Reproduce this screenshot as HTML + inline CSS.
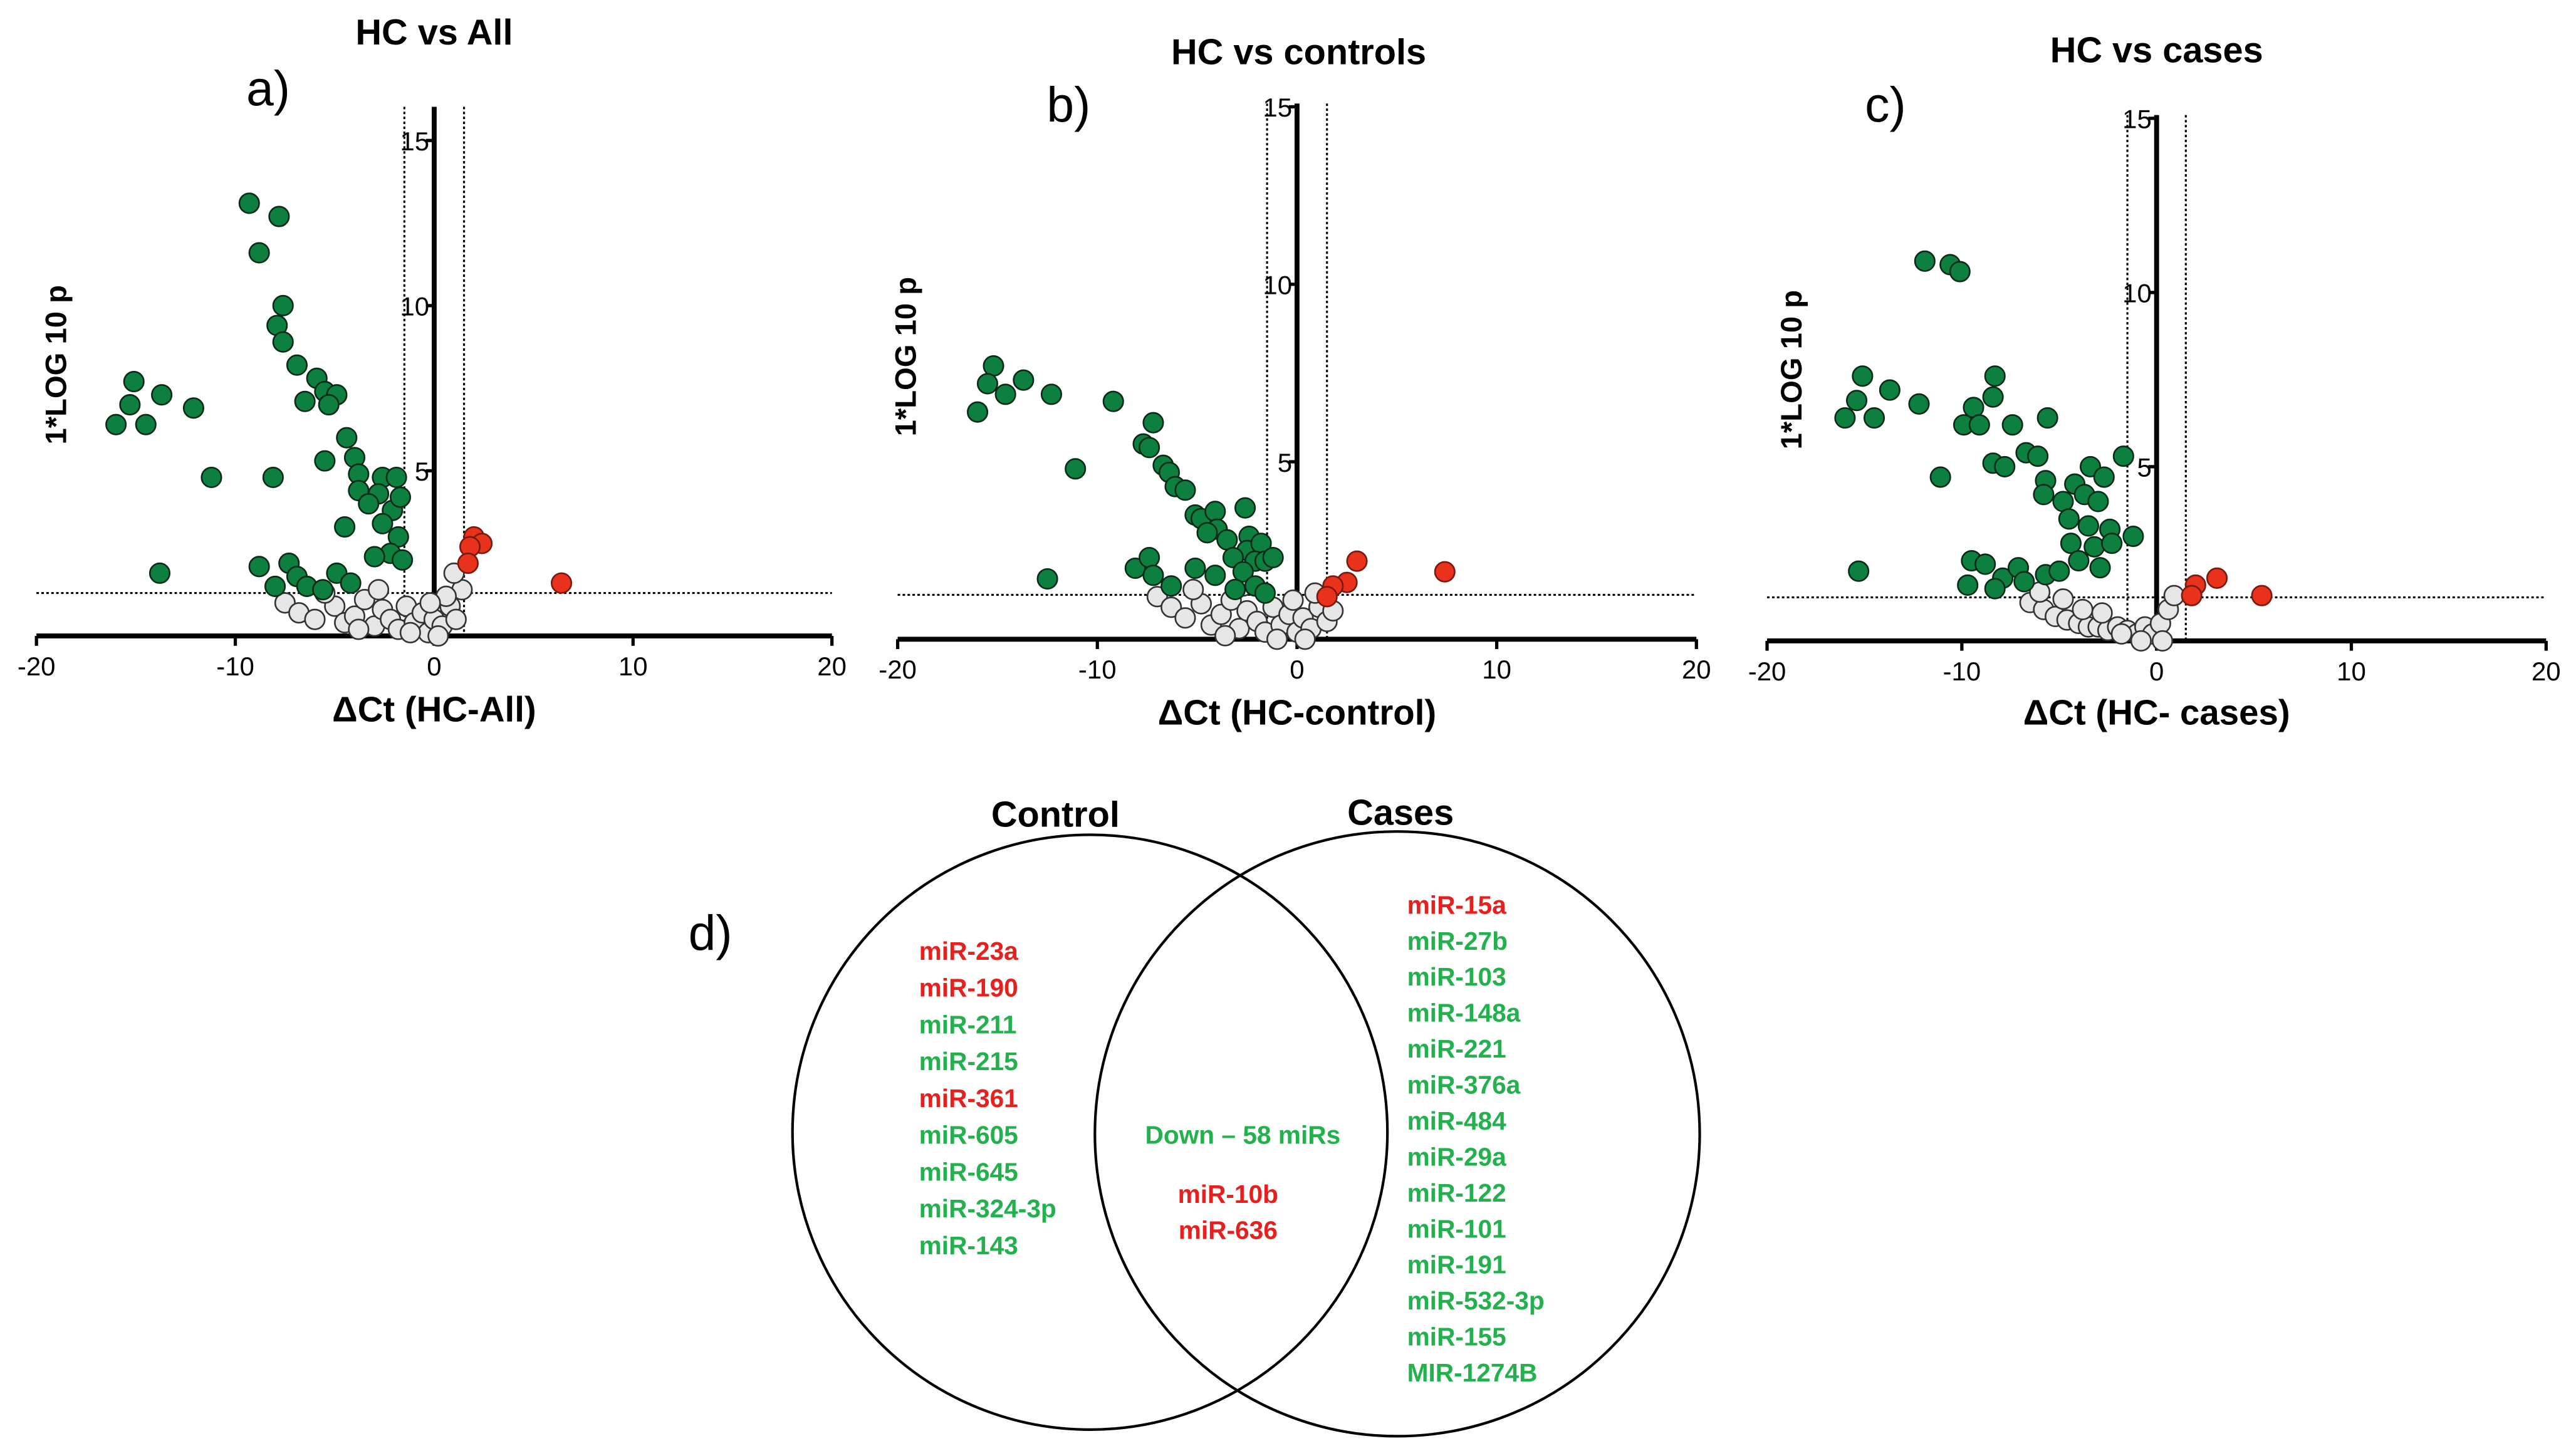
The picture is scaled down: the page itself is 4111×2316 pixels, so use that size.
<!DOCTYPE html>
<html><head><meta charset="utf-8">
<style>
html,body{margin:0;padding:0;background:#fff;}
svg{display:block;}
text{font-family:"Liberation Sans",Arial,sans-serif;}
</style></head>
<body>
<svg id="fig" width="4111" height="2316" viewBox="0 0 1567 883" xmlns="http://www.w3.org/2000/svg">
<g id="panels"></g>
<g id="venn">
  <text x="432" y="578" font-size="30" text-anchor="middle">d)</text>
  <text x="642" y="503" font-size="22" font-weight="bold" text-anchor="middle">Control</text>
  <text x="852" y="502" font-size="22" font-weight="bold" text-anchor="middle">Cases</text>
  <circle cx="663" cy="689" r="181" fill="none" stroke="#000" stroke-width="1.6"/>
  <circle cx="850" cy="690" r="184" fill="none" stroke="#000" stroke-width="1.6"/>
  <g id="vennText" font-size="15.5" font-weight="bold"></g>
</g>
</svg>
<script>
// ---- data ----
const xTicks = [-20,-10,0,10,20];
const yTicks = [5,10,15];
const aGreen = [[-9.3,13.1],[-7.8,12.7],[-8.8,11.6],[-7.6,10.0],[-7.9,9.4],[-7.6,8.9],[-6.9,8.2],[-5.9,7.8],[-6.5,7.1],[-5.5,7.4],[-4.9,7.3],[-5.3,7.0],[-15.1,7.7],[-15.3,7.0],[-13.7,7.3],[-12.1,6.9],[-16.0,6.4],[-14.5,6.4],[-11.2,4.8],[-8.1,4.8],[-5.5,5.3],[-4.4,6.0],[-4.0,5.4],[-3.8,4.9],[-3.8,4.4],[-2.6,4.8],[-1.9,4.8],[-2.8,4.3],[-3.3,4.0],[-2.1,3.8],[-2.6,3.4],[-1.8,3.0],[-2.2,2.5],[-1.6,2.3],[-3.0,2.4],[-13.8,1.9],[-8.8,2.1],[-7.3,2.2],[-6.9,1.8],[-8.0,1.5],[-6.4,1.5],[-4.9,1.9],[-4.2,1.6],[-5.6,1.4],[-4.5,3.3],[-1.7,4.2]];
const aRed = [[2.0,3.0],[2.4,2.8],[1.8,2.7],[1.7,2.2],[6.4,1.6]];
const aGray = [[-7.5,1.0],[-6.8,0.7],[-6,0.5],[-5,0.9],[-4.5,0.4],[-4,0.6],[-3.5,1.1],[-3,0.3],[-2.6,0.8],[-2.2,0.5],[-1.8,0.2],[-1.4,0.9],[-1,0.4],[-0.6,0.7],[-0.3,0.1],[0,0.5],[0.4,0.3],[0.8,0.9],[1.1,0.5],[1.4,1.4],[1.0,1.9],[0.6,1.2],[-0.2,1.0],[-2.8,1.4],[-5.5,1.3],[-1.2,0.1],[0.2,0.0],[-3.8,0.2]];
const bGreen = [[-15.2,7.7],[-15.5,7.2],[-14.6,6.9],[-16.0,6.4],[-13.7,7.3],[-12.3,6.9],[-9.2,6.7],[-11.1,4.8],[-7.2,6.1],[-7.7,5.5],[-7.4,5.4],[-6.7,4.9],[-6.4,4.7],[-6.1,4.3],[-5.6,4.2],[-5.1,3.5],[-4.8,3.4],[-4.1,3.6],[-4.0,3.1],[-4.5,3.0],[-3.5,2.8],[-2.6,3.7],[-2.4,2.9],[-2.5,2.5],[-1.8,2.7],[-3.2,2.3],[-2.1,2.2],[-1.6,2.2],[-1.2,2.3],[-2.7,1.9],[-12.5,1.7],[-8.1,2.0],[-7.4,2.3],[-7.2,1.8],[-6.3,1.5],[-5.1,2.0],[-4.1,1.8],[-3.1,1.4],[-2.1,1.5],[-1.6,1.3]];
const bRed = [[3.0,2.2],[2.5,1.6],[1.8,1.5],[1.5,1.2],[7.4,1.9]];
const bGray = [[-7.0,1.2],[-6.3,0.9],[-5.6,0.6],[-4.8,1.0],[-4.3,0.4],[-3.8,0.7],[-3.3,1.1],[-2.9,0.3],[-2.5,0.8],[-2.0,0.5],[-1.6,0.2],[-1.2,0.9],[-0.8,0.4],[-0.4,0.7],[0,0.2],[0.3,0.6],[0.7,0.3],[1.1,0.9],[1.5,0.5],[0.9,1.3],[-0.2,1.1],[-2.7,1.5],[-5.2,1.4],[-1.0,0.0],[0.4,0.0],[-3.6,0.1],[1.8,0.8]];
const cGreen = [[-11.9,10.9],[-10.6,10.8],[-10.1,10.6],[-15.1,7.6],[-15.4,6.9],[-13.7,7.2],[-16.0,6.4],[-14.5,6.4],[-12.2,6.8],[-8.3,7.6],[-8.4,7.0],[-9.4,6.7],[-9.9,6.2],[-9.1,6.2],[-7.4,6.2],[-5.6,6.4],[-11.1,4.7],[-8.4,5.1],[-7.8,5.0],[-6.7,5.4],[-6.1,5.3],[-5.7,4.6],[-5.8,4.2],[-4.8,4.0],[-4.2,4.5],[-3.4,5.0],[-2.7,4.7],[-3.7,4.2],[-3.0,4.0],[-4.5,3.5],[-3.5,3.3],[-2.4,3.2],[-4.4,2.8],[-3.2,2.7],[-2.3,2.8],[-4.0,2.3],[-2.9,2.1],[-1.7,5.3],[-1.2,3.0],[-15.3,2.0],[-9.5,2.3],[-8.8,2.2],[-9.7,1.6],[-7.9,1.8],[-7.1,2.1],[-8.3,1.5],[-6.8,1.7],[-5.7,1.9],[-5.0,2.0]];
const cRed = [[2.0,1.6],[3.1,1.8],[1.8,1.3],[5.4,1.3]];
const cGray = [[-6.5,1.1],[-5.8,0.9],[-5.2,0.7],[-4.6,0.6],[-4.0,0.5],[-3.5,0.4],[-3.0,0.4],[-2.5,0.3],[-2.0,0.4],[-1.5,0.3],[-1.0,0.2],[-0.6,0.4],[-0.2,0.2],[0.2,0.5],[0.6,0.9],[0.9,1.3],[0.3,0.0],[-0.8,0.0],[-4.8,1.2],[-3.8,0.9],[-2.8,0.8],[-1.8,0.2],[-6.0,1.4]];
const leftMirs = ["miR-23a","miR-190","miR-211","miR-215","miR-361","miR-605","miR-645","miR-324-3p","miR-143"];
const leftUp = [true,true,false,false,true,false,false,false,false];
const rightMirs = ["miR-15a","miR-27b","miR-103","miR-148a","miR-221","miR-376a","miR-484","miR-29a","miR-122","miR-101","miR-191","miR-532-3p","miR-155","MIR-1274B"];
const rightUp = [true,false,false,false,false,false,false,false,false,false,false,false,false,false];

const NS="http://www.w3.org/2000/svg";
function mk(tag,attrs,parent,txt){const e=document.createElementNS(NS,tag);for(const k in attrs)e.setAttribute(k,attrs[k]);if(txt!==undefined)e.textContent=txt;parent.appendChild(e);return e;}

const panels=[
 {id:"a",title:"HC vs All",tx:264,ty:27,lab:"a)",lx:163,ly:64,x0:22,x1:506,y0:387,ppy:20.1,yTop:65,yl:40,ylc:222,xlab:"ΔCt (HC-All)",xly:439,thr:1.3,green:aGreen,red:aRed,gray:aGray},
 {id:"b",title:"HC vs controls",tx:790,ty:39,lab:"b)",lx:650,ly:74,x0:546,x1:1032,y0:389,ppy:21.6,yTop:63,yl:557,ylc:217,xlab:"ΔCt (HC-control)",xly:441,thr:1.25,green:bGreen,red:bRed,gray:bGray},
 {id:"c",title:"HC vs cases",tx:1312,ty:38,lab:"c)",lx:1147,ly:74,x0:1075,x1:1549,y0:390,ppy:21.2,yTop:70,yl:1096,ylc:225,xlab:"ΔCt (HC- cases)",xly:441,thr:1.25,green:cGreen,red:cRed,gray:cGray}
];
const root=document.getElementById("panels");
panels.forEach(p=>{
 const g=mk("g",{},root);
 
 
 const sx=v=>p.x0+(v+20)*(p.x1-p.x0)/40;
 const sy=v=>p.y0-v*p.ppy;
 const t=mk("text",{x:p.tx,y:p.ty,"font-size":22,"font-weight":"bold","text-anchor":"middle"},g,p.title);
 
 
 const l=mk("text",{x:p.lx,y:p.ly,"font-size":30,"text-anchor":"middle"},g,p.lab);
 
 
 const th=mk("line",{x1:p.x0,x2:p.x1,y1:sy(p.thr),y2:sy(p.thr),stroke:"#000","stroke-width":1.2,"stroke-dasharray":"1.5,1.5"},g);
 
 
 [-1.5,1.5].forEach(v=>{
  const d=mk("line",{x1:sx(v),x2:sx(v),y1:p.yTop,y2:p.y0,stroke:"#000","stroke-width":1.2,"stroke-dasharray":"1.5,1.5"},g);
  
  
 });
 const xa=mk("line",{x1:p.x0,x2:p.x1,y1:p.y0,y2:p.y0,stroke:"#000","stroke-width":3},g);
 
 
 const ya=mk("line",{x1:sx(0),x2:sx(0),y1:p.yTop,y2:p.y0,stroke:"#000","stroke-width":3},g);
 
 
 xTicks.forEach(v=>{
  mk("line",{x1:sx(v),x2:sx(v),y1:p.y0,y2:p.y0+6,stroke:"#000","stroke-width":2},g);
  const tl=mk("text",{x:sx(v),y:p.y0+24,"font-size":16,"text-anchor":"middle"},g,String(v));
  
  
 });
 yTicks.forEach(v=>{
  mk("line",{x1:sx(0)-5,x2:sx(0),y1:sy(v),y2:sy(v),stroke:"#000","stroke-width":2},g);
  const tl=mk("text",{x:sx(0)-3,y:sy(v)+6,"font-size":16,"text-anchor":"end"},g,String(v));
  
  
 });
 const xl=mk("text",{x:sx(0),y:p.xly,"font-size":21.5,"font-weight":"bold","text-anchor":"middle"},g,p.xlab);
 
 
 const yl=mk("text",{x:p.yl,y:p.ylc,"font-size":18,"font-weight":"bold","text-anchor":"middle",transform:"rotate(-90 "+p.yl+" "+p.ylc+")"},g,"1*LOG 10 p");
 
 
 p.gray.forEach(d=>{
  const c=mk("circle",{cx:sx(d[0]),cy:sy(d[1]),r:6,fill:"#e6e6e6",stroke:"#333","stroke-width":1},g);
  
  
 });
 p.green.forEach(d=>{
  const c=mk("circle",{cx:sx(d[0]),cy:sy(d[1]),r:6,fill:"#0d8040",stroke:"#0a2a18","stroke-width":1},g);
  
  
 });
 p.red.forEach(d=>{
  const c=mk("circle",{cx:sx(d[0]),cy:sy(d[1]),r:6,fill:"#e8321c",stroke:"#7a1a0e","stroke-width":1},g);
  
  
 });
});
const vt=document.getElementById("vennText");
const RED="#e8201d", GREEN="#22b14c";
leftMirs.forEach((m,i)=>{
 const t=mk("text",{x:559,y:584+i*22.4,fill:leftUp[i]?RED:GREEN},vt,m);
 
 
});
rightMirs.forEach((m,i)=>{
 const t=mk("text",{x:856,y:556+i*21.9,fill:rightUp[i]?RED:GREEN},vt,m);
 
 
});
[["Down – 58 miRs",756,696,GREEN],["miR-10b",747,732,RED],["miR-636",747,754,RED]].forEach(a=>{
 const t=mk("text",{x:a[1],y:a[2],fill:a[3],"text-anchor":"middle"},vt,a[0]);
 
 
});
</script>
</body></html>
